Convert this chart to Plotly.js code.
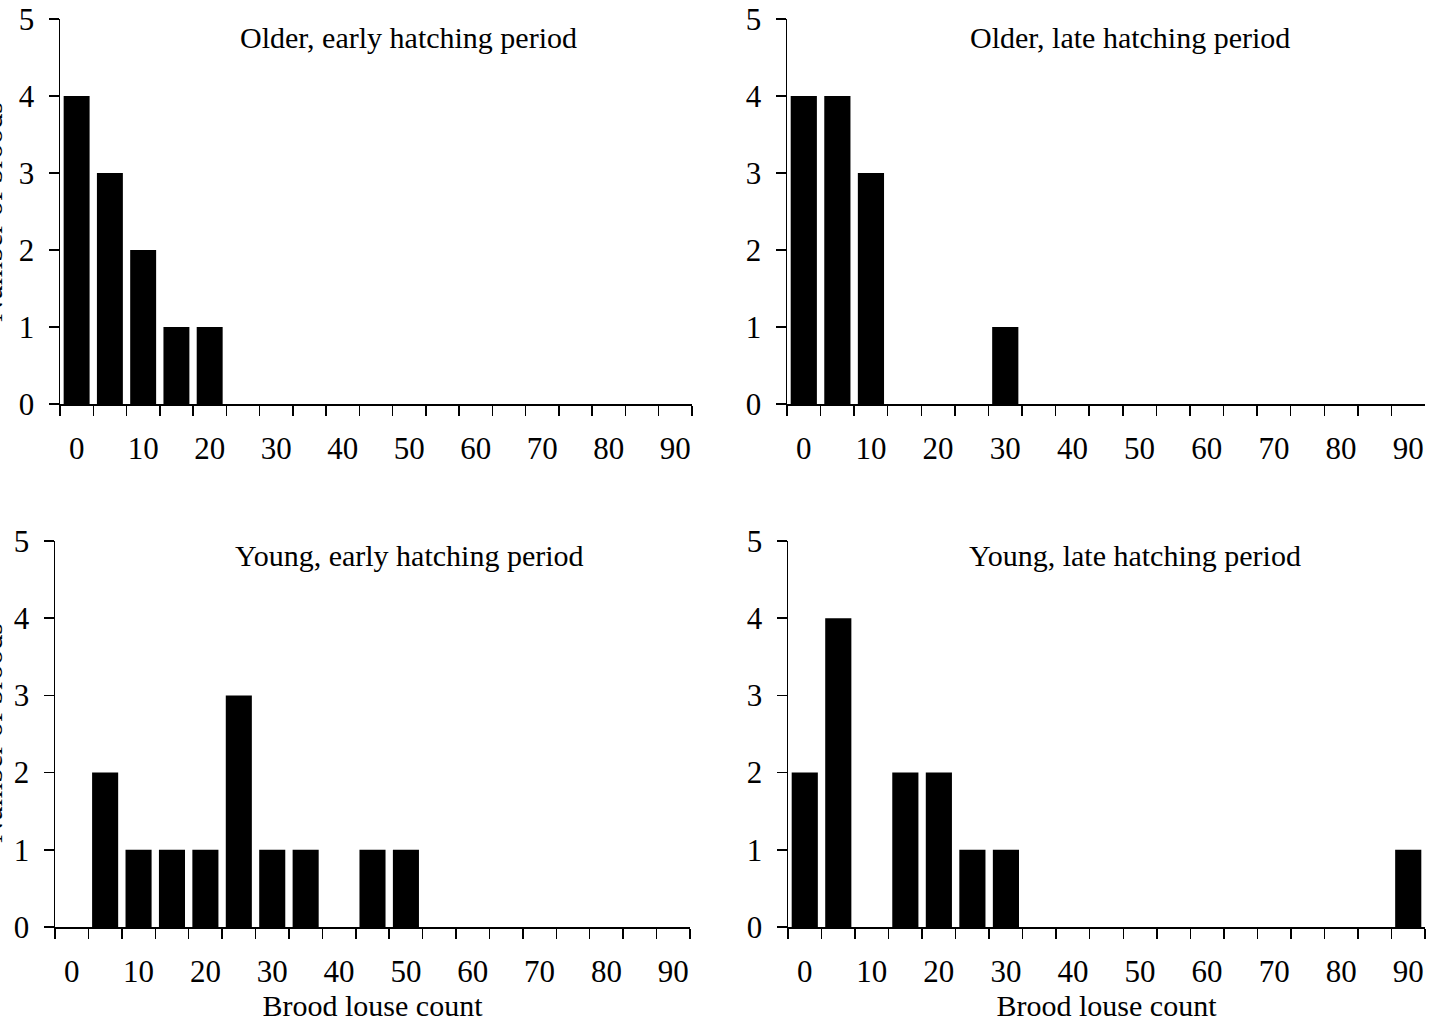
<!DOCTYPE html>
<html>
<head>
<meta charset="utf-8">
<script src="https://cdn.plot.ly/plotly-3.0.1.min.js"></script>
<style>html,body{margin:0;padding:0;background:#fff;}#chart{width:1437px;height:1026px;}</style>
</head>
<body>
<div id="chart"></div>
<script>
// Bins of brood louse count (width 5)
const bins = ["0","5","10","15","20","25","30","35","40","45","50","55","60","65","70","75","80","85","90"];
const tickLabels = ["0","","10","","20","","30","","40","","50","","60","","70","","80","","90"];

const olderEarly = [4,3,2,1,1,0,0,0,0,0,0,0,0,0,0,0,0,0,0];
const olderLate  = [4,4,3,0,0,0,1,0,0,0,0,0,0,0,0,0,0,0,0];
const youngEarly = [0,2,1,1,1,3,1,1,0,1,1,0,0,0,0,0,0,0,0];
const youngLate  = [2,4,0,2,2,1,1,0,0,0,0,0,0,0,0,0,0,0,1];

const panelTitles = ["Older, early hatching period","Older, late hatching period","Young, early hatching period","Young, late hatching period"];
const yTitle = "Number of broods";
const xTitle = "Brood louse count";

const FONT = "Liberation Serif, Times New Roman, serif";
const W = 1437, H = 1026;

function bar(y, xa, ya){
  return {type:"bar", x:bins, y:y, xaxis:xa, yaxis:ya, marker:{color:"#000", line:{width:0}}, hoverinfo:"x+y"};
}
const data = [
  bar(olderEarly,"x","y"),
  bar(olderLate,"x2","y2"),
  bar(youngEarly,"x3","y3"),
  bar(youngLate,"x4","y4")
];

function xax(l, r, anchor, title){
  const a = {
    domain:[l/W, r/W], anchor:anchor, type:"category",
    categoryorder:"array", categoryarray:bins,
    range:[-0.5, bins.length-0.5], fixedrange:true,
    tickmode:"array", tickvals:bins, ticktext:tickLabels, tickangle:0,
    tickson:"boundaries", ticks:"outside", ticklen:10, tickwidth:1.5, tickcolor:"#000",
    showline:true, linecolor:"#000", linewidth:1.5, showgrid:false, zeroline:false,
    tickfont:{family:FONT, size:31, color:"#000"}, ticklabelstandoff:16
  };
  if(title){ a.title = {text:title, font:{family:FONT, size:30, color:"#000"}, standoff:2}; }
  return a;
}
function yax(b, t, anchor){
  return {
    domain:[1-b/H, 1-t/H], anchor:anchor, range:[0,5], fixedrange:true,
    tickmode:"linear", tick0:0, dtick:1,
    ticks:"outside", ticklen:10, tickwidth:1.5, tickcolor:"#000",
    showline:true, linecolor:"#000", linewidth:1.5, showgrid:false, zeroline:false,
    tickfont:{family:FONT, size:31, color:"#000"}, ticklabelstandoff:8
  };
}

function ann(text, cx, cy, angle){
  return {text:text, xref:"paper", yref:"paper", x:cx/W, y:1-cy/H, xanchor:"center", yanchor:"middle",
    showarrow:false, textangle:angle||0, font:{family:FONT, size:30, color:"#000"}};
}

const layout = {
  width:W, height:H, margin:{l:0,r:0,t:0,b:0},
  paper_bgcolor:"#fff", plot_bgcolor:"rgba(0,0,0,0)",
  showlegend:false, bargap:0.22,
  font:{family:FONT, color:"#000"},
  xaxis: xax(60, 692, "y"),
  yaxis: yax(404, 19, "x"),
  xaxis2: xax(787, 1425, "y2"),
  yaxis2: yax(404, 19, "x2"),
  xaxis3: xax(55, 690, "y3", xTitle),
  yaxis3: yax(927, 541, "x3"),
  xaxis4: xax(788, 1425, "y4", xTitle),
  yaxis4: yax(927, 541, "x4"),
  annotations:[
    ann(panelTitles[0], 408, 38),
    ann(panelTitles[1], 1130, 38),
    ann(panelTitles[2], 409, 555),
    ann(panelTitles[3], 1135, 555),
    ann(yTitle, -9, 212, -90),
    ann(yTitle, -9, 733, -90)
  ]
};

Plotly.newPlot("chart", data, layout, {displayModeBar:false, staticPlot:true});
</script>
</body>
</html>
